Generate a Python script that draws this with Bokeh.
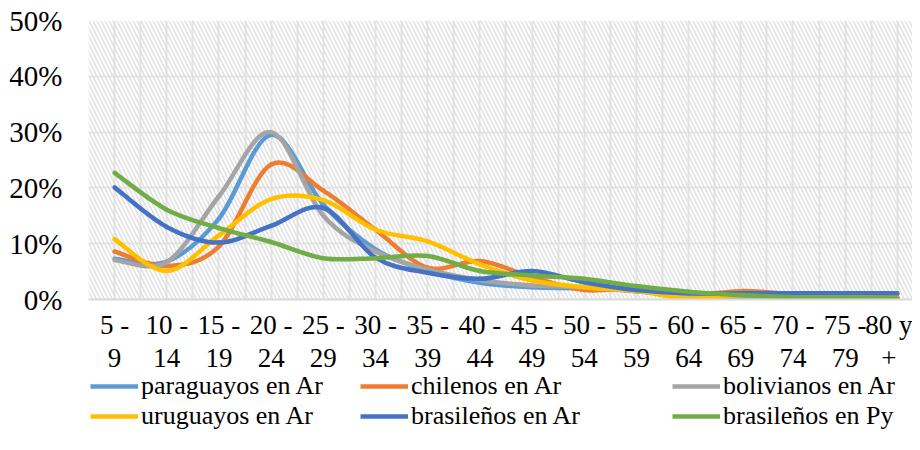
import numpy as np
from bokeh.plotting import figure
from bokeh.layouts import column
from bokeh.models import FixedTicker, NumeralTickFormatter, Range1d, BoxAnnotation, Legend, LegendItem
from bokeh.embed import file_html
from bokeh.resources import INLINE

# ---- data (shares of each migrant group by age group) ----
age_groups = ["5 -\n9", "10 -\n14", "15 -\n19", "20 -\n24", "25 -\n29", "30 -\n34",
              "35 -\n39", "40 -\n44", "45 -\n49", "50 -\n54", "55 -\n59", "60 -\n64",
              "65 -\n69", "70 -\n74", "75 -\n79", "80 y\n+"]
y_ticks = [0.0, 0.1, 0.2, 0.3, 0.4, 0.5]

paraguayos_ar = [0.073, 0.068, 0.145, 0.295, 0.170, 0.090, 0.052, 0.030, 0.022, 0.020, 0.015, 0.008, 0.009, 0.003, 0.002, 0.002]
chilenos_ar   = [0.086, 0.060, 0.095, 0.242, 0.195, 0.125, 0.057, 0.069, 0.040, 0.017, 0.020, 0.008, 0.015, 0.010, 0.006, 0.005]
bolivianos_ar = [0.071, 0.067, 0.185, 0.300, 0.150, 0.086, 0.054, 0.035, 0.025, 0.022, 0.015, 0.006, 0.005, 0.004, 0.003, 0.002]
uruguayos_ar  = [0.108, 0.051, 0.115, 0.180, 0.178, 0.125, 0.104, 0.063, 0.034, 0.022, 0.015, 0.002, 0.008, 0.010, 0.005, 0.003]
brasilenos_ar = [0.201, 0.130, 0.102, 0.132, 0.164, 0.075, 0.048, 0.037, 0.051, 0.031, 0.017, 0.011, 0.011, 0.011, 0.011, 0.011]
brasilenos_py = [0.227, 0.161, 0.128, 0.103, 0.074, 0.074, 0.078, 0.051, 0.043, 0.037, 0.024, 0.014, 0.008, 0.004, 0.003, 0.002]

series_names = ["paraguayos en Ar", "chilenos en Ar", "bolivianos en Ar",
                "uruguayos en Ar", "brasileños en Ar", "brasileños en Py"]
series_values = [paraguayos_ar, chilenos_ar, bolivianos_ar,
                 uruguayos_ar, brasilenos_ar, brasilenos_py]
series_colors = ["#5B9BD5", "#ED7D31", "#A5A5A5", "#FFC000", "#4472C4", "#70AD47"]

FONT = "Liberation Serif"
FS = "27px"
W = 912

n = len(age_groups)
xs = np.arange(n) + 0.5

p = figure(width=W, height=376, output_backend="svg", toolbar_location=None,
           x_range=Range1d(0, 15.79), y_range=Range1d(0, 0.5),
           min_border_left=88, min_border_right=0, min_border_top=20, min_border_bottom=0)
p.outline_line_color = None
p.background_fill_color = "white"
p.border_fill_color = "white"

# hatched plot area
p.add_layout(BoxAnnotation(fill_alpha=0, line_alpha=0, hatch_pattern="\\",
                           hatch_color="#e0e0e0", hatch_scale=8, hatch_weight=1.5,
                           level="underlay"))

# grid
p.xgrid.ticker = FixedTicker(ticks=list(np.arange(0, n + 0.01, 0.5)))
p.ygrid.ticker = FixedTicker(ticks=y_ticks[1:])
for g in (p.xgrid, p.ygrid):
    g.grid_line_color = "#e4e4e4"
    g.grid_line_width = 2

# axes
p.xaxis.ticker = FixedTicker(ticks=list(xs))
p.xaxis.major_label_overrides = {float(x): lab for x, lab in zip(xs, age_groups)}
p.yaxis.ticker = FixedTicker(ticks=y_ticks)
p.yaxis.formatter = NumeralTickFormatter(format="0%")
for ax in (p.xaxis, p.yaxis):
    ax.major_tick_line_color = None
    ax.minor_tick_line_color = None
    ax.major_label_text_font = FONT
    ax.major_label_text_font_size = FS
    ax.major_label_text_color = "black"
p.yaxis.major_label_text_font_size = "29px"
p.xaxis.axis_line_color = "#d9d9d9"
p.xaxis.axis_line_width = 2
p.xaxis.major_label_standoff = 4
p.xaxis.major_label_text_line_height = 1.12
p.yaxis.axis_line_color = None
p.yaxis.major_label_standoff = 20

# smoothed lines (Catmull-Rom style cubic Bezier segments through the data points)
for name, vals, col in zip(series_names, series_values, series_colors):
    y = np.asarray(vals, dtype=float)
    x = xs
    xp = np.concatenate([[x[0]], x, [x[-1]]])
    yp = np.concatenate([[y[0]], y, [y[-1]]])
    i = np.arange(n - 1)
    x0, y0 = xp[i + 1], yp[i + 1]
    x1, y1 = xp[i + 2], yp[i + 2]
    cx0 = x0 + (xp[i + 2] - xp[i]) / 6.0
    cy0 = y0 + (yp[i + 2] - yp[i]) / 6.0
    cx1 = x1 - (xp[i + 3] - xp[i + 1]) / 6.0
    cy1 = y1 - (yp[i + 3] - yp[i + 1]) / 6.0
    p.bezier(x0=x0, y0=y0, x1=x1, y1=y1, cx0=cx0, cy0=cy0, cx1=cx1, cy1=cy1,
             line_color=col, line_width=4.5, line_cap="round")

# legend strip below the chart (legend-only renderers lie outside its visible range)
q = figure(width=W, height=58, output_backend="svg", toolbar_location=None,
           x_axis_location=None, y_axis_location=None,
           x_range=Range1d(0, 16), y_range=Range1d(10, 11),
           min_border_left=0, min_border_right=0, min_border_top=0, min_border_bottom=0)
q.outline_line_color = None
q.xgrid.visible = False
q.ygrid.visible = False
q.border_fill_color = "white"
rends = []
for vals, col in zip(series_values, series_colors):
    rends.append(q.line(x=xs, y=vals, line_color=col, line_width=4.5))

# offsets are measured from the (aligned) frame's left edge
col_x = [2, 272, 584]
for c in range(3):
    its = [LegendItem(label=series_names[c], renderers=[rends[c]]),
           LegendItem(label=series_names[c + 3], renderers=[rends[c + 3]])]
    lg = Legend(items=its, location=(col_x[c], 3),
                label_text_font=FONT, label_text_font_size="26px", label_text_color="black",
                glyph_width=48, glyph_height=26, label_height=26, label_standoff=3,
                spacing=0, padding=0, margin=0, border_line_alpha=0,
                background_fill_alpha=0)
    q.add_layout(lg)

layout = column(p, q, spacing=0)
open("out.html", "w").write(file_html(layout, INLINE))
